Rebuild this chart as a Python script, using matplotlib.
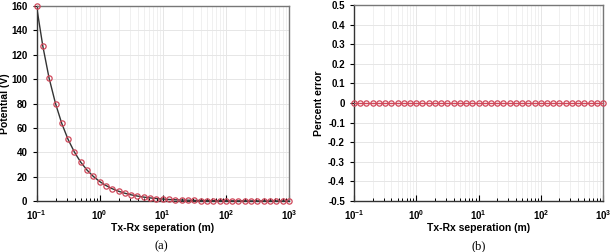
import matplotlib.pyplot as plt
from matplotlib.ticker import LogLocator, NullFormatter

# Tx-Rx separation (m), 10 samples per decade
separation = [0.1, 0.126, 0.158, 0.2, 0.251, 0.316, 0.398, 0.501, 0.631, 0.794,
              1.0, 1.26, 1.58, 2.0, 2.51, 3.16, 3.98, 5.01, 6.31, 7.94,
              10.0, 12.6, 15.8, 20.0, 25.1, 31.6, 39.8, 50.1, 63.1, 79.4,
              100.0, 126.0, 158.0, 200.0, 251.0, 316.0, 398.0, 501.0, 631.0, 794.0,
              1000.0]
potential = [160.0, 127.0, 101.0, 80.0, 63.7, 50.6, 40.2, 31.9, 25.4, 20.2,
             16.0, 12.7, 10.1, 8.0, 6.37, 5.06, 4.02, 3.19, 2.54, 2.02,
             1.6, 1.27, 1.01, 0.8, 0.64, 0.51, 0.4, 0.32, 0.25, 0.2,
             0.16, 0.127, 0.101, 0.08, 0.064, 0.051, 0.04, 0.032, 0.025, 0.02,
             0.016]
percent_error = [0.0] * 41

yticks_a = [0, 20, 40, 60, 80, 100, 120, 140, 160]
yticks_b = [-0.5, -0.4, -0.3, -0.2, -0.1, 0, 0.1, 0.2, 0.3, 0.4, 0.5]
ytick_labels_b = ['-0.5', '-0.4', '-0.3', '-0.2', '-0.1', '0',
                  '0.1', '0.2', '0.3', '0.4', '0.5']

plt.rcParams['font.family'] = ['Liberation Sans', 'DejaVu Sans']

fig = plt.figure(figsize=(6.13, 2.52), dpi=100)
ax1 = fig.add_axes([36.5 / 613, 1 - 201 / 252, 252.5 / 613, 195 / 252])
ax2 = fig.add_axes([354 / 613, 1 - 201 / 252, 249 / 613, 196 / 252])

red = '#d0485a'


def style_axis(ax):
    ax.set_xscale('log')
    ax.set_xlim(0.1, 1000)
    ax.xaxis.set_major_locator(LogLocator(base=10, numticks=10))
    ax.xaxis.set_minor_locator(LogLocator(base=10, subs=range(2, 10), numticks=20))
    ax.xaxis.set_minor_formatter(NullFormatter())
    ax.grid(True, which='major', color='#e6e6e6', lw=0.7)
    ax.grid(True, which='minor', axis='x', color='#eeeeee', lw=0.6)
    ax.set_axisbelow(True)
    ax.tick_params(axis='x', which='major', direction='in', length=4, width=0.8,
                   labelsize=7, pad=5)
    ax.tick_params(axis='x', which='minor', direction='in', length=2.5, width=0.7)
    ax.tick_params(axis='y', direction='out', length=3, width=0.8, labelsize=7)
    for lbl in ax.get_xticklabels() + ax.get_yticklabels():
        lbl.set_fontweight('bold')
    for sp in ['bottom', 'left']:
        ax.spines[sp].set_color('#333333')
        ax.spines[sp].set_linewidth(1.0)
    for sp in ['top', 'right']:
        ax.spines[sp].set_color('#777777')
        ax.spines[sp].set_linewidth(1.0)
    ax.set_xlabel('Tx-Rx seperation (m)', fontsize=7.5, fontweight='bold', labelpad=1)


ax1.plot(separation, potential, color='#333333', lw=1.0, zorder=2)
ax1.plot(separation, potential, ls='none', marker='o', ms=3.8, mfc='none',
         mec=red, mew=0.9, zorder=3, clip_on=False)
ax1.set_ylim(0, 160)
ax1.set_yticks(yticks_a)
style_axis(ax1)
ax1.set_ylabel('Potential (V)', fontsize=7.5, fontweight='bold', labelpad=1)

ax2.plot(separation, percent_error, color=red, lw=1.0, marker='o', ms=3.8,
         mfc='none', mec=red, mew=0.9, zorder=3, clip_on=False)
ax2.set_ylim(-0.5, 0.5)
ax2.set_yticks(yticks_b)
ax2.set_yticklabels(ytick_labels_b)
style_axis(ax2)
ax2.set_ylabel('Percent error', fontsize=7.5, fontweight='bold', labelpad=3)

fig.text(161 / 613, 1 - 246 / 252, '(a)', ha='center', va='center',
         fontsize=9, family='Liberation Serif')
fig.text(479 / 613, 1 - 246 / 252, '(b)', ha='center', va='center',
         fontsize=9, family='Liberation Serif')

fig.savefig('out.png', dpi=100)
